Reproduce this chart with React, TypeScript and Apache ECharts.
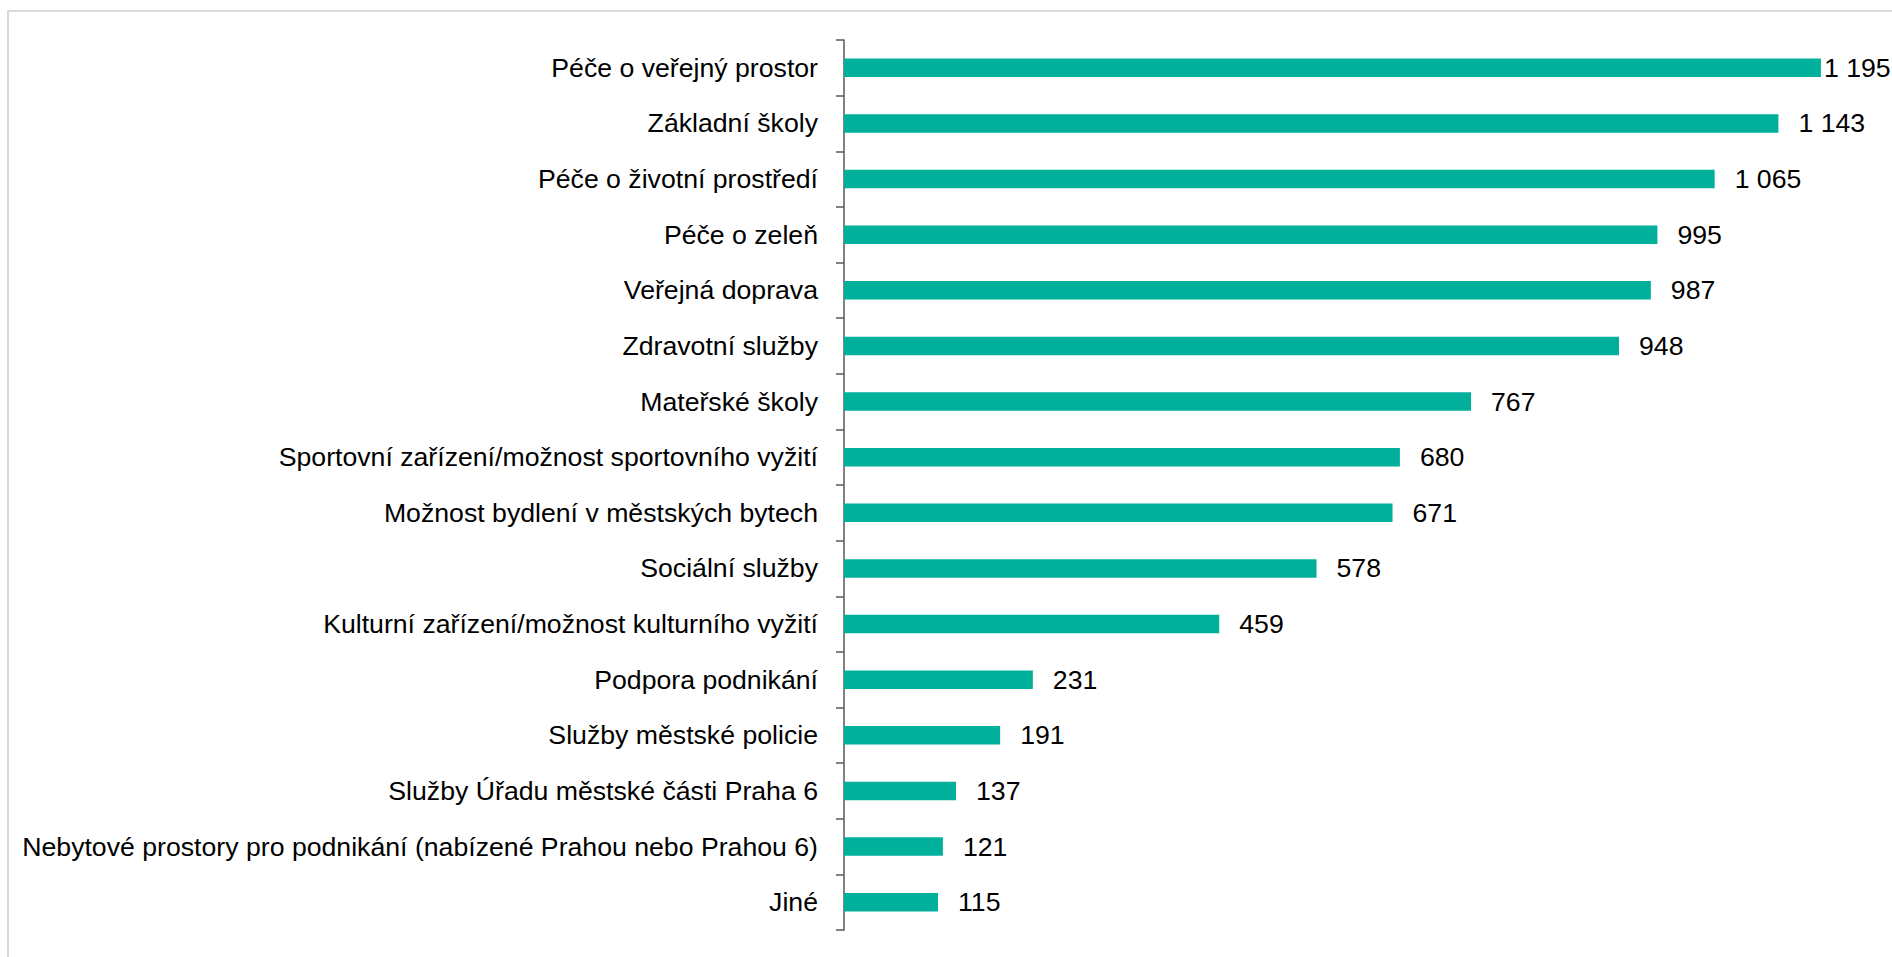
import React, { useEffect, useRef } from "react";
import * as echarts from "echarts";

const categories = [
  "Péče o veřejný prostor",
  "Základní školy",
  "Péče o životní prostředí",
  "Péče o zeleň",
  "Veřejná doprava",
  "Zdravotní služby",
  "Mateřské školy",
  "Sportovní zařízení/možnost sportovního vyžití",
  "Možnost bydlení v městských bytech",
  "Sociální služby",
  "Kulturní zařízení/možnost kulturního vyžití",
  "Podpora podnikání",
  "Služby městské policie",
  "Služby Úřadu městské části Praha 6",
  "Nebytové prostory pro podnikání (nabízené Prahou nebo Prahou 6)",
  "Jiné",
];

const values = [1195, 1143, 1065, 995, 987, 948, 767, 680, 671, 578, 459, 231, 191, 137, 121, 115];

const FONT = '"Liberation Sans", Arial, sans-serif';

function fmt(v: number): string {
  return String(v).replace(/\B(?=(\d{3})+(?!\d))/g, " ");
}

export default function App() {
  const ref = useRef<HTMLDivElement>(null);

  useEffect(() => {
    document.body.style.margin = "0";
    document.body.style.overflow = "hidden";
    if (!ref.current) return;
    const chart = echarts.init(ref.current, undefined, { renderer: "svg" });
    chart.setOption({
      animation: false,
      grid: { left: 844, top: 40, width: 981, height: 890, containLabel: false },
      xAxis: {
        type: "value",
        min: 0,
        max: 1200,
        show: false,
        splitLine: { show: false },
      },
      yAxis: {
        type: "category",
        data: categories,
        inverse: true,
        axisLine: { show: true, lineStyle: { color: "#595959", width: 1.5 } },
        axisTick: { show: true, length: 8, lineStyle: { color: "#595959", width: 1.5 } },
        axisLabel: {
          margin: 26,
          color: "#000000",
          fontSize: 26.67,
          fontFamily: FONT,
        },
      },
      series: [
        {
          type: "bar",
          data: values.map((v, i) =>
            i === 0 ? { value: v, label: { distance: 3 } } : { value: v }
          ),
          barWidth: 18.5,
          itemStyle: { color: "#00B09B" },
          label: {
            show: true,
            position: "right",
            distance: 20,
            color: "#000000",
            fontSize: 26.67,
            fontFamily: FONT,
            formatter: (p: any) => fmt(p.value),
          },
        },
      ],
    });
    return () => chart.dispose();
  }, []);

  return (
    <div style={{ position: "fixed", left: 0, top: 0, width: 1892, height: 957, overflow: "hidden", background: "#fff" }}>
      <div
        style={{
          position: "absolute",
          left: 7,
          top: 10,
          width: 2000,
          height: 1100,
          borderLeft: "2px solid #d9d9d9",
          borderTop: "2px solid #d9d9d9",
        }}
      />
      <div ref={ref} style={{ position: "absolute", left: 0, top: 0, width: 1892, height: 957 }} />
    </div>
  );
}
